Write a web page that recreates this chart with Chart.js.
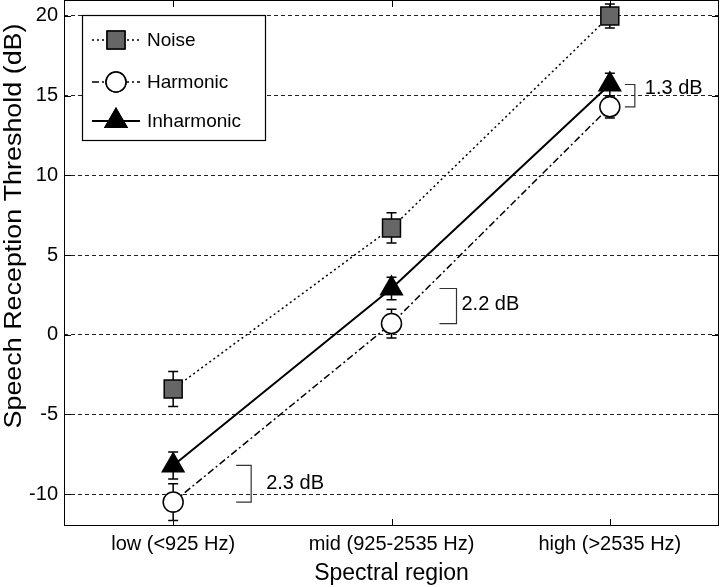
<!DOCTYPE html>
<html>
<head>
<meta charset="utf-8">
<script src="https://cdn.jsdelivr.net/npm/chart.js@4/dist/chart.umd.min.js"></script>
<style>
  html, body { margin: 0; padding: 0; background: #fff; }
  #wrap { width: 720px; height: 587px; }
</style>
</head>
<body>
<div id="wrap"><canvas id="myChart" width="720" height="587"></canvas></div>
<script>
const categories = ['low (<925 Hz)', 'mid (925-2535 Hz)', 'high (>2535 Hz)']
const noise = [-3.4, 6.7, 20.0]
const noiseErr = [1.1, 0.95, 0.75]
const harmonic = [-10.5, 0.7, 14.3]
const harmonicErr = [1.15, 0.9, 0.7]
const inharmonic = [-8.2, 2.9, 15.7]
const inharmonicErr = [0.85, 0.7, 0.7]
const yTicks = [-10, -5, 0, 5, 10, 15, 20]
const diffLabels = ['2.3 dB', '2.2 dB', '1.3 dB']
const yTitle = 'Speech Reception Threshold (dB)'

// bracket placement (pixels from the category centre)
const bracketDx = [[63, 78], [48, 65], [15, 25]]
const labelDx = [15, 5, 10]
const labelDy = [0, -2, -7]

Chart.defaults.color = '#000'
Chart.defaults.font.family = '"Liberation Sans", Arial, sans-serif'

const errors = [noiseErr, harmonicErr, inharmonicErr]

const extras = {
  id: 'extras',
  beforeDatasetsDraw(chart) {
    const ctx = chart.ctx
    const x = chart.scales.x, y = chart.scales.y
    ctx.save()
    ctx.strokeStyle = '#000'
    ctx.lineWidth = 1.5
    chart.data.datasets.forEach((ds, di) => {
      ds.data.forEach((v, i) => {
        const px = x.getPixelForValue(i)
        const e = errors[di][i]
        const top = y.getPixelForValue(v + e)
        const bot = y.getPixelForValue(v - e)
        ctx.beginPath()
        ctx.moveTo(px, top); ctx.lineTo(px, bot)
        ctx.moveTo(px - 5, top); ctx.lineTo(px + 5, top)
        ctx.moveTo(px - 5, bot); ctx.lineTo(px + 5, bot)
        ctx.stroke()
      })
    })
    ctx.restore()
  },
  afterDraw(chart) {
    const ctx = chart.ctx
    const a = chart.chartArea
    const x = chart.scales.x, y = chart.scales.y
    ctx.save()
    // axes box
    ctx.strokeStyle = '#000'
    ctx.lineWidth = 1
    ctx.strokeRect(a.left + 0.5, a.top + 0.5, a.right - a.left - 1, a.bottom - a.top - 1)
    // inward tick marks
    ctx.beginPath()
    categories.forEach((c, i) => {
      const px = Math.round(x.getPixelForValue(i)) + 0.5
      ctx.moveTo(px, a.bottom); ctx.lineTo(px, a.bottom - 7)
      ctx.moveTo(px, a.top); ctx.lineTo(px, a.top + 7)
    })
    yTicks.forEach(v => {
      const py = Math.round(y.getPixelForValue(v)) + 0.5
      ctx.moveTo(a.left, py); ctx.lineTo(a.left + 7, py)
      ctx.moveTo(a.right, py); ctx.lineTo(a.right - 7, py)
    })
    ctx.stroke()

    // y axis title (the source figure is stretched vertically)
    ctx.save()
    ctx.translate(15, 226)
    ctx.rotate(-Math.PI / 2)
    ctx.font = '23px "Liberation Sans", Arial, sans-serif'
    const tw = ctx.measureText(yTitle).width
    ctx.scale(405 / tw, 1)
    ctx.textAlign = 'center'
    ctx.textBaseline = 'middle'
    ctx.fillStyle = '#000'
    ctx.fillText(yTitle, 0, 0)
    ctx.restore()

    // difference brackets
    ctx.strokeStyle = '#333'
    ctx.lineWidth = 1.2
    ctx.font = '20px "Liberation Sans", Arial, sans-serif'
    ctx.fillStyle = '#000'
    ctx.textBaseline = 'middle'
    diffLabels.forEach((t, i) => {
      const px = x.getPixelForValue(i)
      const x0 = px + bracketDx[i][0], x1 = px + bracketDx[i][1]
      const yt = y.getPixelForValue(inharmonic[i])
      const yb = y.getPixelForValue(harmonic[i])
      ctx.beginPath()
      ctx.moveTo(x0, yt); ctx.lineTo(x1, yt); ctx.lineTo(x1, yb); ctx.lineTo(x0, yb)
      ctx.stroke()
      ctx.fillText(t, x1 + labelDx[i], (yt + yb) / 2 + labelDy[i])
    })

    // legend
    const lx = 82, ly = 15, lw = 183, lh = 125
    ctx.fillStyle = '#fff'
    ctx.fillRect(lx, ly, lw, lh)
    ctx.strokeStyle = '#000'
    ctx.lineWidth = 1.2
    ctx.strokeRect(lx + 0.5, ly + 0.5, lw, lh)
    const rows = [40, 82, 121]
    ctx.font = '19px "Liberation Sans", Arial, sans-serif'
    chart.data.datasets.forEach((ds, di) => {
      const ry = rows[di]
      ctx.save()
      ctx.strokeStyle = ds.borderColor
      ctx.lineWidth = ds.borderWidth
      ctx.setLineDash(ds.borderDash || [])
      ctx.beginPath()
      ctx.moveTo(92, ry); ctx.lineTo(140, ry)
      ctx.stroke()
      ctx.restore()
      Chart.helpers.drawPoint(ctx, {
        pointStyle: ds.pointStyle,
        radius: ds.pointRadius,
        borderWidth: ds.pointBorderWidth
      }, 116, ry)
      ctx.fillStyle = ds.pointBackgroundColor
      ctx.strokeStyle = '#000'
      ctx.lineWidth = ds.pointBorderWidth
      ctx.fill()
      ctx.stroke()
      ctx.fillStyle = '#000'
      ctx.fillText(ds.label, 147, ry + 1)
    })
    ctx.restore()
  }
}

const chart = document.getElementById('myChart')

new Chart(chart, {
  type: 'line',
  data: {
    labels: categories,
    datasets: [{
      label: 'Noise',
      data: noise,
      borderColor: '#000',
      borderWidth: 1.5,
      borderDash: [2, 3],
      pointStyle: 'rect',
      pointRadius: 12.7,
      pointBackgroundColor: '#666',
      pointBorderColor: '#000',
      pointBorderWidth: 1.5
    }, {
      label: 'Harmonic',
      data: harmonic,
      borderColor: '#000',
      borderWidth: 1.5,
      borderDash: [7, 3, 2, 3],
      pointStyle: 'circle',
      pointRadius: 10,
      pointBackgroundColor: '#fff',
      pointBorderColor: '#000',
      pointBorderWidth: 1.5
    }, {
      label: 'Inharmonic',
      data: inharmonic,
      borderColor: '#000',
      borderWidth: 2,
      pointStyle: 'triangle',
      pointRadius: 12.5,
      pointBackgroundColor: '#000',
      pointBorderColor: '#000',
      pointBorderWidth: 1.5
    }]
  },
  options: {
    responsive: false,
    animation: false,
    layout: { autoPadding: false, padding: { left: 0, right: 1, top: 0, bottom: 0 } },
    plugins: { legend: { display: false }, tooltip: { enabled: false } },
    scales: {
      x: {
        offset: true,
        grid: { display: false, drawTicks: false },
        border: { display: false },
        ticks: { font: { size: 20 }, padding: 6, color: '#000' },
        title: { display: true, text: 'Spectral region', font: { size: 23 }, padding: { top: 2, bottom: 0 } },
        afterFit(scale) {
          scale.height = 61
          scale.paddingLeft = 0
          scale.paddingRight = 0
        }
      },
      y: {
        min: -12,
        max: 21,
        afterBuildTicks(scale) { scale.ticks = yTicks.map(v => ({ value: v })) },
        grid: { color: '#222', lineWidth: 1, drawTicks: false },
        border: { display: false, dash: [4, 3] },
        ticks: { font: { size: 20 }, padding: 6, color: '#000' },
        afterFit(scale) {
          scale.width = 64
          scale.paddingTop = 0
          scale.paddingBottom = 0
        }
      }
    }
  },
  plugins: [extras]
})
</script>
</body>
</html>
